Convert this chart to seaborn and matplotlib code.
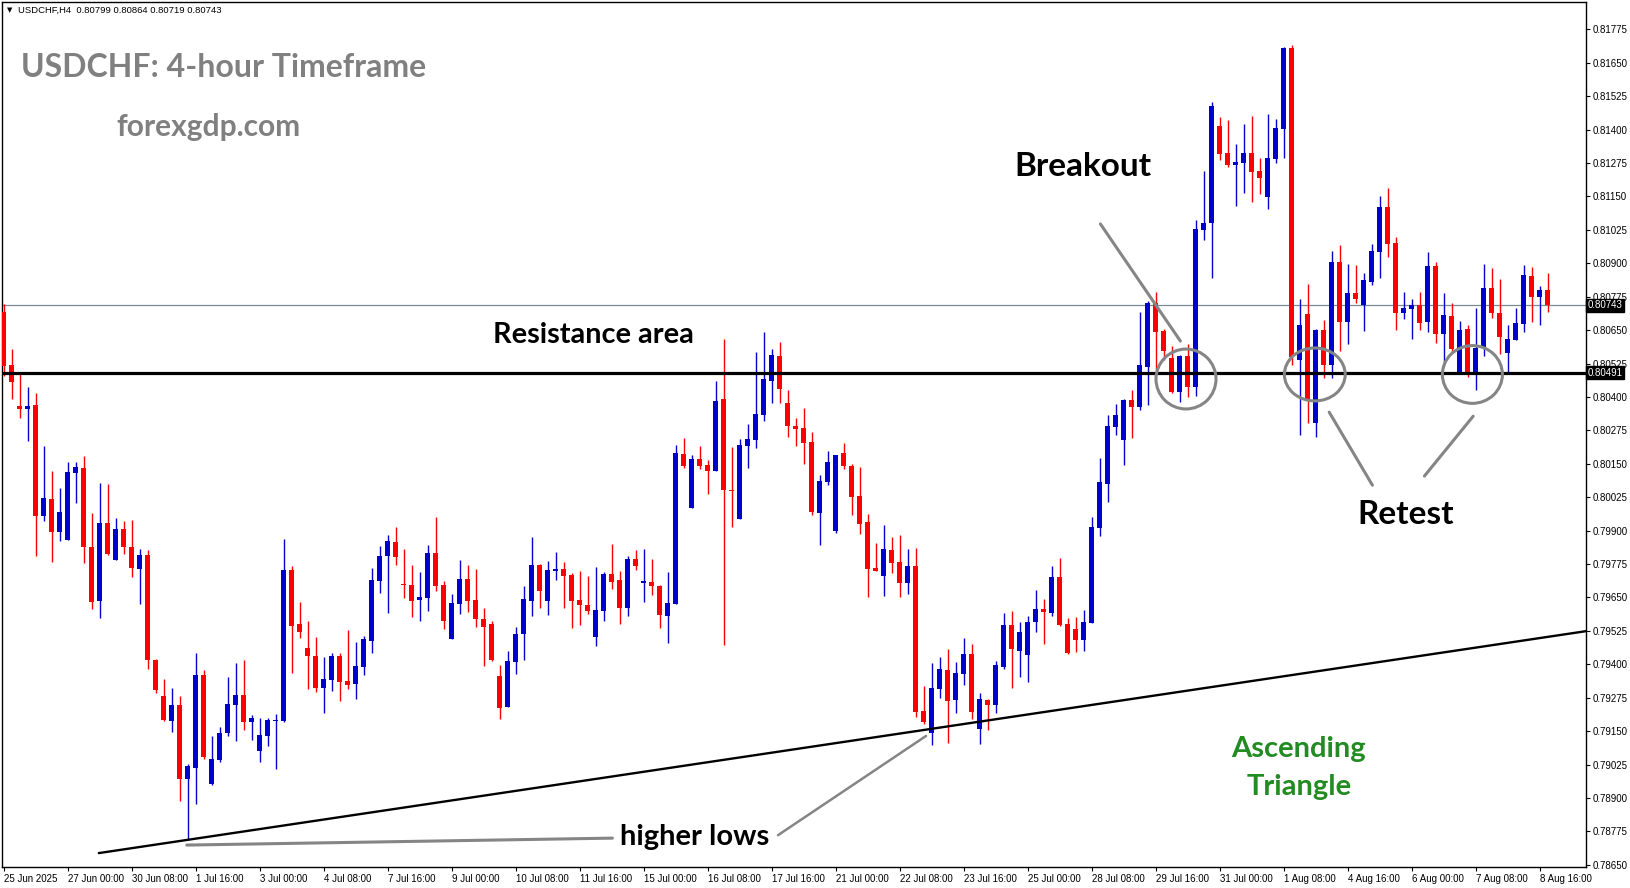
import numpy as np
import pandas as pd
import matplotlib
matplotlib.use("Agg")
import matplotlib.pyplot as plt
import matplotlib.transforms as mtransforms
from matplotlib.patches import Ellipse
import seaborn as sns

# USDCHF H4 candles, 25 Jun 2025 16:00 -> 8 Aug 2025 20:00
opens = [0.80717, 0.80519, 0.80367, 0.80354, 0.80370, 0.79953, 0.80018, 0.79895, 0.79866, 0.80116,
         0.80134, 0.79838, 0.79638, 0.79929, 0.79791, 0.79906, 0.79838, 0.79758, 0.79809, 0.79417,
         0.79281, 0.79187, 0.79248, 0.78972, 0.79014, 0.79360, 0.78954, 0.79043, 0.79143, 0.79248,
         0.79285, 0.79185, 0.79077, 0.79131, 0.79187, 0.79187, 0.79753, 0.79551, 0.79461, 0.79431,
         0.79312, 0.79341, 0.79431, 0.79337, 0.79327, 0.79391, 0.79488, 0.79712, 0.79805, 0.79857,
         0.79699, 0.79696, 0.79641, 0.79649, 0.79816, 0.79696, 0.79496, 0.79626, 0.79719, 0.79640,
         0.79569, 0.79551, 0.79356, 0.79241, 0.79409, 0.79514, 0.79638, 0.79771, 0.79638, 0.79750,
         0.79756, 0.79734, 0.79640, 0.79622, 0.79503, 0.79600, 0.79738, 0.79715, 0.79612, 0.79794,
         0.79705, 0.79708, 0.79694, 0.79582, 0.79626, 0.80186, 0.79986, 0.80167, 0.80145, 0.80124,
         0.80392, 0.80052, 0.79944, 0.80217, 0.80240, 0.80332, 0.80460, 0.80553, 0.80377, 0.80290,
         0.80282, 0.80231, 0.79967, 0.80083, 0.79900, 0.80190, 0.80143, 0.80030, 0.79932, 0.79761,
         0.79731, 0.79827, 0.79782, 0.79705, 0.79768, 0.79225, 0.79142, 0.79307, 0.79379, 0.79266,
         0.79365, 0.79439, 0.79159, 0.79268, 0.79248, 0.79391, 0.79547, 0.79451, 0.79436, 0.79559,
         0.79608, 0.79593, 0.79726, 0.79551, 0.79532, 0.79492, 0.79556, 0.79910, 0.80076, 0.80288,
         0.80240, 0.80388, 0.80363, 0.80513, 0.80752, 0.80646, 0.80544, 0.80420, 0.80553, 0.80438,
         0.81024, 0.81049, 0.81413, 0.81312, 0.81269, 0.81276, 0.81312, 0.81245, 0.81149, 0.81290,
         0.81403, 0.81704, 0.80538, 0.80710, 0.80301, 0.80650, 0.80519, 0.80904, 0.80681, 0.80787,
         0.80744, 0.80831, 0.80943, 0.81110, 0.80976, 0.80715, 0.80730, 0.80744, 0.80681, 0.80890,
         0.80636, 0.80702, 0.80495, 0.80654, 0.80495, 0.80588, 0.80808, 0.80713, 0.80565, 0.80613,
         0.80674, 0.80852, 0.80775, 0.80799]
highs = [0.80746, 0.80579, 0.80487, 0.80437, 0.80414, 0.80216, 0.80122, 0.80060, 0.80156, 0.80156,
         0.80179, 0.79966, 0.80078, 0.80075, 0.79949, 0.79935, 0.79941, 0.79833, 0.79826, 0.79421,
         0.79345, 0.79312, 0.79281, 0.79027, 0.79443, 0.79379, 0.79131, 0.79165, 0.79351, 0.79405,
         0.79417, 0.79210, 0.79201, 0.79201, 0.79214, 0.79869, 0.79768, 0.79633, 0.79562, 0.79502,
         0.79427, 0.79442, 0.79442, 0.79529, 0.79483, 0.79506, 0.79760, 0.79842, 0.79883, 0.79913,
         0.79831, 0.79771, 0.79745, 0.79846, 0.79951, 0.79711, 0.79663, 0.79790, 0.79771, 0.79756,
         0.79610, 0.79562, 0.79397, 0.79450, 0.79539, 0.79693, 0.79876, 0.79775, 0.79786, 0.79820,
         0.79782, 0.79741, 0.79749, 0.79730, 0.79764, 0.79745, 0.79850, 0.79749, 0.79805, 0.79827,
         0.79831, 0.79794, 0.79696, 0.79744, 0.80220, 0.80247, 0.80183, 0.80216, 0.80164, 0.80459,
         0.80616, 0.80213, 0.80242, 0.80299, 0.80568, 0.80643, 0.80579, 0.80605, 0.80426, 0.80322,
         0.80360, 0.80268, 0.80109, 0.80198, 0.80183, 0.80228, 0.80149, 0.80139, 0.79962, 0.79853,
         0.79921, 0.79876, 0.79883, 0.79831, 0.79835, 0.79320, 0.79405, 0.79428, 0.79456, 0.79410,
         0.79499, 0.79476, 0.79291, 0.79270, 0.79412, 0.79593, 0.79601, 0.79560, 0.79580, 0.79678,
         0.79644, 0.79768, 0.79797, 0.79572, 0.79576, 0.79603, 0.79951, 0.80171, 0.80332, 0.80373,
         0.80392, 0.80426, 0.80717, 0.80758, 0.80793, 0.80654, 0.80590, 0.80557, 0.80598, 0.81062,
         0.81245, 0.81504, 0.81446, 0.81435, 0.81346, 0.81420, 0.81450, 0.81293, 0.81458, 0.81439,
         0.81707, 0.81716, 0.80767, 0.80822, 0.80654, 0.80688, 0.80946, 0.80968, 0.80897, 0.80893,
         0.80862, 0.80972, 0.81151, 0.81182, 0.80997, 0.80791, 0.80766, 0.80792, 0.80942, 0.80904,
         0.80787, 0.80750, 0.80683, 0.80669, 0.80733, 0.80897, 0.80882, 0.80842, 0.80669, 0.80733,
         0.80893, 0.80886, 0.80816, 0.80864]
lows = [0.80477, 0.80394, 0.80323, 0.80236, 0.79806, 0.79935, 0.79782, 0.79862, 0.79864, 0.80005,
        0.79779, 0.79608, 0.79575, 0.79809, 0.79789, 0.79813, 0.79726, 0.79626, 0.79381, 0.79294,
        0.79187, 0.79147, 0.78887, 0.78743, 0.78879, 0.79045, 0.78950, 0.79034, 0.79131, 0.79114,
        0.79154, 0.79118, 0.79034, 0.79094, 0.79010, 0.79185, 0.79366, 0.79499, 0.79307, 0.79297,
        0.79219, 0.79301, 0.79264, 0.79307, 0.79271, 0.79361, 0.79443, 0.79668, 0.79593, 0.79772,
        0.79649, 0.79578, 0.79563, 0.79600, 0.79675, 0.79533, 0.79494, 0.79589, 0.79597, 0.79540,
        0.79395, 0.79413, 0.79196, 0.79239, 0.79365, 0.79417, 0.79582, 0.79610, 0.79585, 0.79715,
        0.79612, 0.79537, 0.79548, 0.79589, 0.79469, 0.79563, 0.79683, 0.79552, 0.79582, 0.79754,
        0.79634, 0.79659, 0.79534, 0.79481, 0.79624, 0.80135, 0.79984, 0.80132, 0.80038, 0.80122,
        0.79473, 0.79914, 0.79942, 0.80135, 0.80210, 0.80311, 0.80378, 0.80378, 0.80251, 0.80217,
        0.80150, 0.79960, 0.79847, 0.80071, 0.79890, 0.80132, 0.79960, 0.79888, 0.79653, 0.79748,
        0.79656, 0.79742, 0.79653, 0.79664, 0.79204, 0.79176, 0.79098, 0.79275, 0.79105, 0.79219,
        0.79322, 0.79194, 0.79102, 0.79154, 0.79219, 0.79381, 0.79312, 0.79354, 0.79335, 0.79522,
        0.79475, 0.79580, 0.79544, 0.79440, 0.79447, 0.79451, 0.79554, 0.79879, 0.80008, 0.80258,
        0.80146, 0.80247, 0.80352, 0.80370, 0.80500, 0.80538, 0.80413, 0.80382, 0.80401, 0.80403,
        0.80987, 0.80845, 0.81286, 0.81259, 0.81115, 0.81162, 0.81130, 0.81159, 0.81104, 0.81276,
        0.81294, 0.80519, 0.80257, 0.80301, 0.80249, 0.80469, 0.80472, 0.80573, 0.80597, 0.80752,
        0.80646, 0.80818, 0.80846, 0.80924, 0.80650, 0.80692, 0.80618, 0.80650, 0.80641, 0.80603,
        0.80515, 0.80569, 0.80493, 0.80475, 0.80426, 0.80553, 0.80696, 0.80559, 0.80494, 0.80612,
        0.80641, 0.80681, 0.80669, 0.80719]
closes = [0.80517, 0.80456, 0.80356, 0.80367, 0.79953, 0.80022, 0.79895, 0.79969, 0.80119, 0.80137,
          0.79839, 0.79632, 0.79929, 0.79811, 0.79906, 0.79838, 0.79762, 0.79809, 0.79417, 0.79304,
          0.79192, 0.79248, 0.78972, 0.79018, 0.79360, 0.79054, 0.79047, 0.79143, 0.79252, 0.79285,
          0.79185, 0.79199, 0.79137, 0.79192, 0.79192, 0.79753, 0.79544, 0.79522, 0.79432, 0.79312,
          0.79345, 0.79431, 0.79335, 0.79324, 0.79394, 0.79494, 0.79715, 0.79805, 0.79861, 0.79802,
          0.79696, 0.79638, 0.79652, 0.79816, 0.79694, 0.79563, 0.79629, 0.79719, 0.79638, 0.79570,
          0.79540, 0.79416, 0.79238, 0.79412, 0.79513, 0.79644, 0.79771, 0.79675, 0.79753, 0.79756,
          0.79731, 0.79638, 0.79623, 0.79600, 0.79603, 0.79738, 0.79709, 0.79612, 0.79794, 0.79769,
          0.79711, 0.79694, 0.79585, 0.79629, 0.80189, 0.80143, 0.80167, 0.80143, 0.80124, 0.80385,
          0.80053, 0.80049, 0.80220, 0.80242, 0.80336, 0.80467, 0.80557, 0.80431, 0.80292, 0.80280,
          0.80229, 0.79971, 0.80085, 0.80156, 0.80181, 0.80143, 0.80027, 0.79926, 0.79757, 0.79750,
          0.79831, 0.79780, 0.79705, 0.79768, 0.79223, 0.79185, 0.79311, 0.79382, 0.79264, 0.79368,
          0.79439, 0.79223, 0.79270, 0.79248, 0.79397, 0.79547, 0.79456, 0.79521, 0.79560, 0.79607,
          0.79597, 0.79726, 0.79547, 0.79443, 0.79492, 0.79560, 0.79913, 0.80082, 0.80291, 0.80332,
          0.80388, 0.80363, 0.80519, 0.80752, 0.80644, 0.80573, 0.80420, 0.80553, 0.80438, 0.81028,
          0.81049, 0.81488, 0.81310, 0.81269, 0.81277, 0.81312, 0.81242, 0.81220, 0.81293, 0.81406,
          0.81704, 0.80550, 0.80669, 0.80388, 0.80650, 0.80519, 0.80904, 0.80681, 0.80787, 0.80767,
          0.80837, 0.80946, 0.81110, 0.80973, 0.80715, 0.80732, 0.80744, 0.80677, 0.80890, 0.80636,
          0.80706, 0.80579, 0.80650, 0.80495, 0.80584, 0.80808, 0.80715, 0.80625, 0.80616, 0.80676,
          0.80856, 0.80775, 0.80800, 0.80743]

date_labels = ["25 Jun 2025", "27 Jun 00:00", "30 Jun 08:00", "1 Jul 16:00", "3 Jul 00:00",
               "4 Jul 08:00", "7 Jul 16:00", "9 Jul 00:00", "10 Jul 08:00", "11 Jul 16:00",
               "15 Jul 00:00", "16 Jul 08:00", "17 Jul 16:00", "21 Jul 00:00", "22 Jul 08:00",
               "23 Jul 16:00", "25 Jul 00:00", "28 Jul 08:00", "29 Jul 16:00", "31 Jul 00:00",
               "1 Aug 08:00", "4 Aug 16:00", "6 Aug 00:00", "7 Aug 08:00", "8 Aug 16:00"]
price_ticks = [0.78650, 0.78775, 0.78900, 0.79025, 0.79150, 0.79275, 0.79400, 0.79525, 0.79650,
               0.79775, 0.79900, 0.80025, 0.80150, 0.80275, 0.80400, 0.80525, 0.80650, 0.80775,
               0.80900, 0.81025, 0.81150, 0.81275, 0.81400, 0.81525, 0.81650, 0.81775]
resistance = 0.80491
last_price = 0.80743
# trendline (bar, price) endpoints
trend_x = [11.9, 197.8]
trend_y = [0.78694, 0.79524]

sns.set_theme(style="white")
plt.rcParams["font.family"] = ["Liberation Sans", "DejaVu Sans"]

df = pd.DataFrame({"open": opens, "high": highs, "low": lows, "close": closes})
df["bar"] = np.arange(len(df))
df["up"] = df["close"] >= df["open"]
df["color"] = np.where(df["up"], "#0000CD", "#FF0000")
df["body_lo"] = df[["open", "close"]].min(axis=1)
df["body_h"] = (df["close"] - df["open"]).abs().clip(lower=0.00004)

W, H = 1631, 888
fig = plt.figure(figsize=(W / 100, H / 100), dpi=100)
ax = fig.add_axes([2 / W, 21 / H, 1584 / W, 865 / H])
ax.set_xlim(-0.2, 197.8)
ax.set_ylim(0.78642, 0.81877)

# candles
ax.vlines(df["bar"], df["low"], df["high"], colors=df["color"], linewidth=1.0, zorder=3)
ax.bar(df["bar"], df["body_h"], bottom=df["body_lo"], width=0.63, color=df["color"],
       linewidth=0, zorder=4)

# price lines
ax.axhline(last_price, color="#7a8a99", lw=0.9, zorder=2)
ax.axhline(resistance, color="black", lw=2.3, zorder=5)
sns.lineplot(x=trend_x, y=trend_y, ax=ax, color="black", lw=1.7, zorder=5)

# annotations
gray = "#858585"
ax.plot([137.1, 147.1], [0.81047, 0.80609], color=gray, lw=2.2, zorder=6)
ax.plot([165.7, 171.1], [0.80343, 0.80070], color=gray, lw=2.2, zorder=6)
ax.plot([183.7, 177.6], [0.80328, 0.80104], color=gray, lw=2.2, zorder=6)
ax.plot([22.9, 76.1], [0.78724, 0.78750], color=gray, lw=2.2, zorder=6)
ax.plot([96.8, 115.3], [0.78761, 0.79132], color=gray, lw=1.8, zorder=6)
for cx, cy, rw, rh in [(147.8, 0.80467, 7.5, 0.00224), (163.9, 0.80484, 7.6, 0.00198),
                       (183.6, 0.80484, 7.5, 0.00216)]:
    ax.add_patch(Ellipse((cx, cy), rw, rh, fill=False, ec=gray, lw=2.2, zorder=6))

bold = dict(family=["Lato", "DejaVu Sans"], fontweight="bold")
ax.text(134.9, 0.81263, "Breakout", fontsize=24, color="black", ha="center", va="center", **bold)
ax.text(73.7, 0.80631, "Resistance area", fontsize=20.8, color="black", ha="center", va="center", **bold)
ax.text(175.2, 0.79962, "Retest", fontsize=24, color="black", ha="center", va="center", **bold)
ax.text(86.4, 0.78754, "higher lows", fontsize=21, color="black", ha="center", va="center", **bold)
ax.text(161.9, 0.79083, "Ascending", fontsize=21, color="#228B22", ha="center", va="center", **bold)
ax.text(161.9, 0.78942, "Triangle", fontsize=21, color="#228B22", ha="center", va="center", **bold)

fig.text(21 / W, 1 - 67 / H, "USDCHF: 4-hour Timeframe", fontsize=23, color="#808080",
         ha="left", va="center", **bold)
fig.text(116 / W, 1 - 127 / H, "forexgdp.com", fontsize=21.5, color="#808080",
         ha="left", va="center", **bold)
fig.text(7 / W, 1 - 10 / H, "\u25bc", fontsize=5, color="black", ha="left", va="center",
         family="DejaVu Sans")
fig.text(18 / W, 1 - 10 / H, "USDCHF,H4  0.80799 0.80864 0.80719 0.80743", fontsize=6.8,
         color="black", ha="left", va="center")

# axes styling
for s in ax.spines.values():
    s.set_color("black")
    s.set_linewidth(1.0)
ax.yaxis.tick_right()
ax.set_yticks(price_ticks)
ax.set_yticklabels([f"{p:.5f}" for p in price_ticks])
ax.set_xticks(np.arange(0, 193, 8))
ax.set_xticklabels(date_labels, ha="left")
ax.tick_params(axis="y", right=True, left=False, length=3, width=0.8, pad=2, labelsize=7,
               colors="black")
ax.tick_params(axis="x", bottom=True, length=3, width=0.8, pad=2, labelsize=7, colors="black")
for lab in ax.get_xticklabels():
    lab.set_family(["Liberation Sans Narrow", "Liberation Sans"])

blend = mtransforms.blended_transform_factory(ax.transAxes, ax.transData)
for p in [last_price, resistance]:
    ax.text(1.0012, p, f"{p:.5f}", transform=blend, fontsize=7, color="white", ha="left",
            va="center", clip_on=False, zorder=10,
            bbox=dict(boxstyle="square,pad=0.15", fc="black", ec="black"))

fig.savefig("out.png", dpi=100)
